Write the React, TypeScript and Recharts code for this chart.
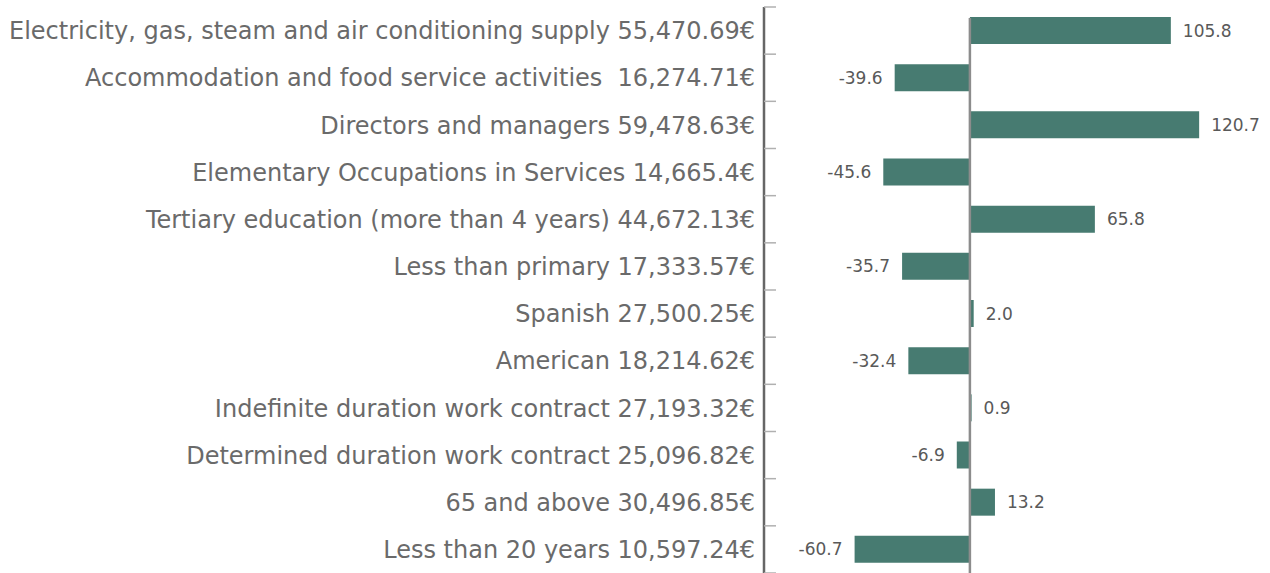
import { BarChart, Bar, XAxis, YAxis, ReferenceLine, LabelList } from 'recharts'

const categories = [
  'Electricity, gas, steam and air conditioning supply 55,470.69€',
  'Accommodation and food service activities  16,274.71€',
  'Directors and managers 59,478.63€',
  'Elementary Occupations in Services 14,665.4€',
  'Tertiary education (more than 4 years) 44,672.13€',
  'Less than primary 17,333.57€',
  'Spanish 27,500.25€',
  'American 18,214.62€',
  'Indefinite duration work contract 27,193.32€',
  'Determined duration work contract 25,096.82€',
  '65 and above 30,496.85€',
  'Less than 20 years 10,597.24€',
]

const values = [105.8, -39.6, 120.7, -45.6, 65.8, -35.7, 2.0, -32.4, 0.9, -6.9, 13.2, -60.7]

const data = categories.map((name, i) => ({ name, value: values[i] }))

const FONT = '"DejaVu Sans", sans-serif'
const BAR = '#477b71'

function CategoryTick(props: any) {
  const { x, y, payload, index } = props
  const half = payload?.offset || 23.6
  const axisX = x + 9
  return (
    <g>
      <line x1={axisX} x2={axisX + 12} y1={y - half} y2={y - half} stroke="#b0b0b0" strokeWidth={1.5} />
      {index === categories.length - 1 && (
        <line x1={axisX} x2={axisX + 12} y1={y + half} y2={y + half} stroke="#b0b0b0" strokeWidth={1.5} />
      )}
      <text
        x={x}
        y={y}
        dy="0.36em"
        textAnchor="end"
        fill="#6a6a6a"
        fontSize={24}
        fontFamily={FONT}
        style={{ whiteSpace: 'pre' }}
      >
        {payload.value}
      </text>
    </g>
  )
}

function ValueLabel(props: any) {
  const { x, y, width, height, value } = props
  const left = Math.min(x, x + width)
  const right = Math.max(x, x + width)
  const pos = value >= 0
  return (
    <text
      x={pos ? right + 12 : left - 12}
      y={y + height / 2}
      dy="0.36em"
      textAnchor={pos ? 'start' : 'end'}
      fill="#595959"
      fontSize={17}
      fontFamily={FONT}
    >
      {Number(value).toFixed(1)}
    </text>
  )
}

export default function App() {
  return (
    <div style={{ position: 'absolute', left: 0, top: 0, background: '#fff' }}>
      <BarChart
        width={1270}
        height={573}
        data={data}
        layout="vertical"
        margin={{ top: 7, right: 0, bottom: 0, left: 0 }}
      >
        <XAxis type="number" domain={[-108.4, 158]} hide allowDataOverflow />
        <YAxis
          type="category"
          dataKey="name"
          width={764}
          tickLine={false}
          tickSize={0}
          axisLine={{ stroke: '#666666', strokeWidth: 2.5 }}
          tickMargin={9}
          tick={<CategoryTick />}
          interval={0}
        />
        <Bar dataKey="value" fill={BAR} barSize={27} isAnimationActive={false}>
          <LabelList dataKey="value" content={<ValueLabel />} />
        </Bar>
        <ReferenceLine
          x={0}
          stroke="#8c8c8c"
          strokeWidth={2.5}
          shape={(p: any) => (
            <line x1={p.x1} x2={p.x2} y1={Math.min(p.y1, p.y2) + 11} y2={Math.max(p.y1, p.y2)} stroke="#8c8c8c" strokeWidth={2.5} />
          )}
        />
      </BarChart>
    </div>
  )
}
